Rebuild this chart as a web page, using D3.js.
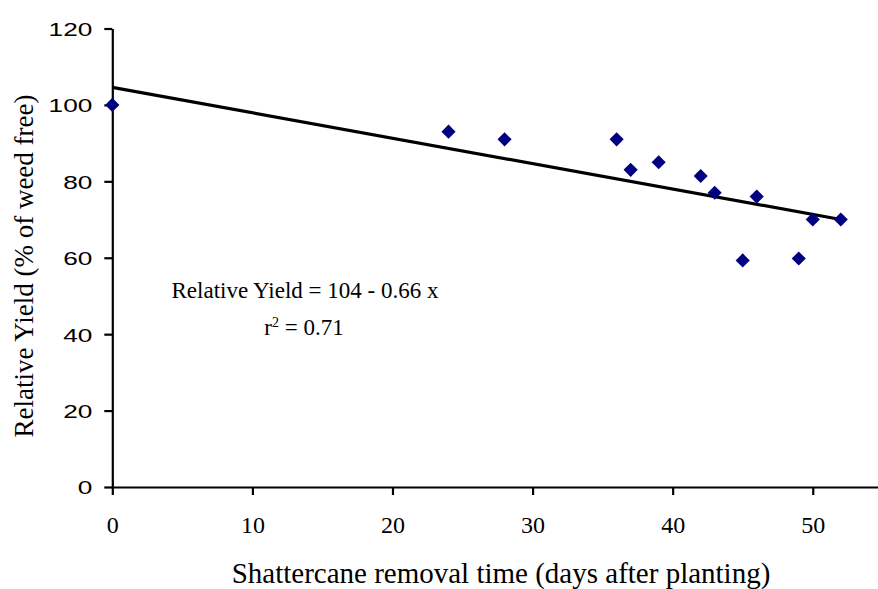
<!DOCTYPE html>
<meta charset="utf-8">
<title>Shattercane removal time</title>
<style>
body { margin: 0; background: #fff; }
svg { display: block; background: #fff; }
.axis path, .axis line { stroke: #000; stroke-width: 2.2; }
</style>
<svg width="878" height="589"></svg>
<script src="https://d3js.org/d3.v7.min.js"></script>
<script>
  // removal time (days after planting) and relative yield (% of weed free)
  var days = [0, 24, 28, 36, 37, 39, 42, 43, 45, 46, 49, 50, 52]
  var relYield = [100, 93, 91, 91, 83, 85, 81.4, 77, 59.3, 76, 59.8, 70, 70]

  // fitted line end points as drawn
  var fitDays = [0, 52]
  var fitYield = [104.6, 70]

  var xTicks = [0, 10, 20, 30, 40, 50]
  var yTicks = [0, 20, 40, 60, 80, 100, 120]

  var SERIF = '"Liberation Serif", "Times New Roman", serif'
  var SANS = '"Liberation Sans", Arial, sans-serif'

  var svg = d3.select("svg")

  var x = d3.scaleLinear().domain([0, 55]).range([112.3, 882.8])
  var y = d3.scaleLinear().domain([0, 120]).range([487, 28.5])

  // axes
  var yAxis = svg.append("g").attr("class", "axis")
    .attr("transform", "translate(" + x(0) + ",0)")
    .call(d3.axisLeft(y).tickValues(yTicks).tickSize(8).tickSizeOuter(0))
  // the sans tick labels are drawn wide in the original
  var sx = 1.38
  yAxis.selectAll("text")
    .style("font-family", SANS)
    .style("font-size", "19px")
    .attr("fill", "#000")
    .attr("x", -20 / sx)
    .attr("dy", "0.36em")
    .attr("transform", "scale(" + sx + ",1)")

  var xAxis = svg.append("g").attr("class", "axis")
    .attr("transform", "translate(0," + y(0) + ")")
    .call(d3.axisBottom(x).tickValues(xTicks).tickSize(8).tickSizeOuter(0))
  xAxis.selectAll("text")
    .style("font-family", SERIF)
    .style("font-size", "24px")
    .attr("fill", "#000")
    .attr("y", 46).attr("dy", 0)
  svg.selectAll(".axis .domain").attr("fill", "none")

  // regression line
  var fit = fitDays.map(function(d, i) { return [d, fitYield[i]] })
  svg.append("path")
    .datum(fit)
    .attr("fill", "none")
    .attr("stroke", "#000")
    .attr("stroke-width", 3.2)
    .attr("d", d3.line().x(function(d) { return x(d[0]) }).y(function(d) { return y(d[1]) }))

  // points
  var pts = days.map(function(d, i) { return [d, relYield[i]] })
  svg.append("g").selectAll("path")
    .data(pts)
    .enter().append("path")
      .attr("d", d3.symbol().type(d3.symbolSquare).size(100))
      .attr("fill", "#000080")
      .attr("transform", function(d) { return "translate(" + x(d[0]) + "," + y(d[1]) + ") rotate(45)" })

  // equation
  svg.append("text")
    .style("font-family", SERIF).style("font-size", "23px")
    .attr("x", 305).attr("y", 298)
    .attr("text-anchor", "middle")
    .text("Relative Yield = 104 - 0.66 x")

  var r2 = svg.append("text")
    .style("font-family", SERIF).style("font-size", "23px")
    .attr("x", 304).attr("y", 335)
    .attr("text-anchor", "middle")
  r2.append("tspan").text("r")
  r2.append("tspan").attr("dy", -8).style("font-size", "14px").text("2")
  r2.append("tspan").attr("dy", 8).text(" = 0.71")

  // axis titles
  svg.append("text")
    .style("font-family", SERIF).style("font-size", "27px")
    .attr("transform", "rotate(-90)")
    .attr("x", -266).attr("y", 33)
    .attr("text-anchor", "middle")
    .text("Relative Yield (% of weed free)")

  svg.append("text")
    .style("font-family", SERIF).style("font-size", "29px")
    .attr("x", 501).attr("y", 583)
    .attr("text-anchor", "middle")
    .text("Shattercane removal time (days after planting)")
</script>
